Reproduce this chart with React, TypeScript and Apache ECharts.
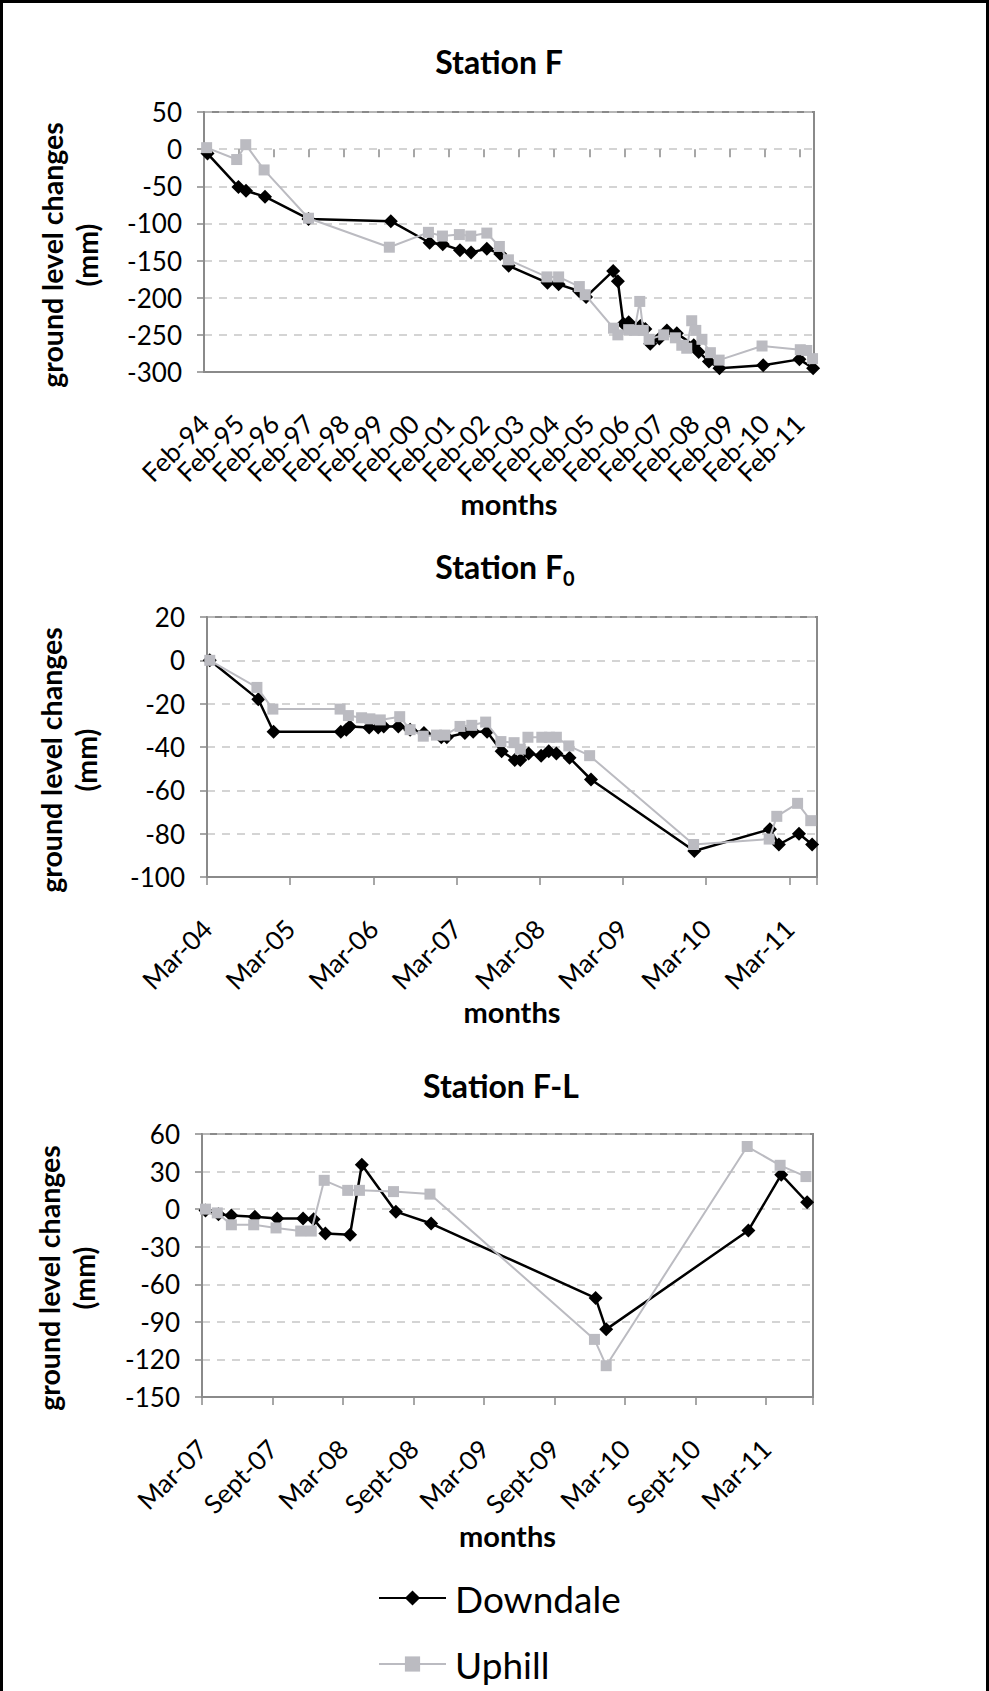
import React, { useEffect, useRef } from 'react';
import * as echarts from 'echarts';

const FONT = 'Lato, "Open Sans", sans-serif';
const DOWN_COLOR = '#000000';
const UP_COLOR = '#bbbbc1';
const AXIS_COLOR = '#8a8a8a';
const GRID_COLOR = '#c6c6c6';

// ---------- Station F (x = months since Feb-94) ----------
const fDownMonths = [1.2, 11.8, 14.4, 20.9, 35.8, 64.0, 77.3, 81.8, 87.7, 91.5, 96.9, 101.5, 104.4, 117.7, 121.5, 128.5, 130.9, 140.2, 141.8, 143.7, 145.5, 149.5, 151.2, 152.9, 156.0, 158.6, 162.0, 167.8, 169.5, 173.0, 176.6, 191.6, 204.0, 208.7];
const fDownValues = [-6, -51, -56, -64, -94, -97, -126, -128, -136, -139, -134, -141, -157, -180, -182, -191, -199, -164, -178, -235, -233, -238, -242, -262, -255, -244, -248, -264, -273, -286, -295, -291, -283, -295];
const fUpMonths = [0.9, 11.2, 14.3, 20.6, 35.8, 63.5, 76.9, 81.7, 87.5, 91.4, 96.9, 101.2, 104.3, 117.5, 121.5, 128.6, 130.6, 140.3, 141.8, 145.5, 147.5, 149.3, 150.5, 152.5, 157.5, 161.5, 163.7, 165.4, 167.1, 168.5, 170.6, 173.5, 176.5, 191.2, 204.3, 206.5, 208.5];
const fUpValues = [2, -14, 6, -28, -93, -132, -112, -117, -115, -117, -113, -131, -149, -172, -172, -185, -196, -241, -250, -243, -244, -205, -244, -256, -250, -254, -264, -268, -231, -244, -256, -274, -284, -265, -270, -271, -282];
const fTickLabels = ['Feb-94', 'Feb-95', 'Feb-96', 'Feb-97', 'Feb-98', 'Feb-99', 'Feb-00', 'Feb-01', 'Feb-02', 'Feb-03', 'Feb-04', 'Feb-05', 'Feb-06', 'Feb-07', 'Feb-08', 'Feb-09', 'Feb-10', 'Feb-11'];

// ---------- Station F0 (x = months since Mar-04) ----------
const f0DownMonths = [0.4, 7.4, 9.6, 19.3, 20.1, 20.6, 23.4, 24.7, 25.5, 27.6, 29.3, 31.3, 33.8, 34.6, 37.2, 38.4, 40.4, 42.5, 44.4, 45.2, 46.4, 48.2, 49.3, 50.4, 52.3, 55.4, 70.3, 81.2, 82.5, 85.4, 87.3];
const f0DownValues = [0, -18, -33, -33, -32, -30.5, -31, -31, -30.5, -30.5, -32, -33.5, -35.5, -35.5, -33.5, -33, -33, -42, -46, -46, -43, -44, -42, -43, -45, -55, -88, -78, -85, -80, -85];
const f0UpMonths = [0.4, 7.2, 9.5, 19.2, 20.4, 22.3, 23.5, 25.0, 27.8, 29.3, 31.2, 33.1, 34.3, 36.5, 38.2, 40.2, 42.4, 44.3, 45.2, 46.3, 48.3, 49.4, 50.4, 52.2, 55.2, 70.2, 81.1, 82.2, 85.2, 87.1];
const f0UpValues = [0, -12.5, -22.5, -22.5, -25.5, -26.5, -27, -27.5, -26, -32, -35, -34.5, -34.5, -30.5, -30, -28.5, -37.5, -38, -41, -35.5, -35.5, -35.5, -35.5, -39.5, -44, -85, -82.5, -72, -66, -74];
const f0TickLabels = ['Mar-04', 'Mar-05', 'Mar-06', 'Mar-07', 'Mar-08', 'Mar-09', 'Mar-10', 'Mar-11'];

// ---------- Station F-L (x = months since Mar-07) ----------
const flDownMonths = [0.3, 1.4, 2.5, 4.5, 6.4, 8.6, 9.5, 10.5, 12.6, 13.6, 16.5, 19.5, 33.5, 34.4, 46.5, 49.3, 51.5];
const flDownValues = [-1, -4, -5, -6, -7.5, -7.5, -8, -19.5, -20.5, 35.5, -2, -11.5, -71, -96, -17, 27.5, 5.5];
const flUpMonths = [0.3, 1.3, 2.5, 4.4, 6.3, 8.4, 9.3, 10.4, 12.4, 13.4, 16.3, 19.4, 33.4, 34.4, 46.4, 49.2, 51.4];
const flUpValues = [0, -3, -12.5, -12.5, -15, -17.5, -17.5, 23, 15, 15, 14, 12, -104, -125, 50, 35, 26];
const flTickLabels = ['Mar-07', 'Sept-07', 'Mar-08', 'Sept-08', 'Mar-09', 'Sept-09', 'Mar-10', 'Sept-10', 'Mar-11'];

const seriesNames = ['Downdale', 'Uphill'];

const zip = (xs: number[], ys: number[]) => xs.map((x, i) => [x, ys[i]]);

const panels = [
  {
    title: 'Station F',
    grid: { left: 204, top: 112, width: 610, height: 260 },
    xMax: 209, xInterval: 12, ticks: fTickLabels, nameGap: 116,
    yMin: -300, yMax: 50, yInterval: 50,
    down: zip(fDownMonths, fDownValues), up: zip(fUpMonths, fUpValues),
    titleX: 499, titleY: 61, yTitleX: 69, yTitleY: 255,
    monthTicks: true,
  },
  {
    title: 'Station F0',
    grid: { left: 207, top: 617, width: 610, height: 260 },
    xMax: 88, xInterval: 12, ticks: f0TickLabels, nameGap: 118,
    yMin: -100, yMax: 20, yInterval: 20,
    down: zip(f0DownMonths, f0DownValues), up: zip(f0UpMonths, f0UpValues),
    titleX: 505, titleY: 569, yTitleX: 68.5, yTitleY: 760,
    monthTicks: false,
  },
  {
    title: 'Station F-L',
    grid: { left: 202, top: 1134, width: 611, height: 263 },
    xMax: 52, xInterval: 6, ticks: flTickLabels, nameGap: 120,
    yMin: -150, yMax: 60, yInterval: 30,
    down: zip(flDownMonths, flDownValues), up: zip(flUpMonths, flUpValues),
    titleX: 501, titleY: 1085, yTitleX: 66, yTitleY: 1278,
    monthTicks: false,
  },
];

const xLabelStyle = {
  rotate: 45,
  margin: 47,
  fontFamily: FONT,
  fontSize: 26,
  color: '#000',
};

function buildOption() {
  const grid: any[] = [];
  const xAxis: any[] = [];
  const yAxis: any[] = [];
  const series: any[] = [];
  const graphic: any[] = [];
  const extraXAxes: any[] = [];

  panels.forEach((p, i) => {
    grid.push({ ...p.grid, show: true, borderColor: AXIS_COLOR, borderWidth: 2, backgroundColor: 'transparent' });
    const tickFmt = (v: number) => {
      const k = v / p.xInterval;
      if (Math.abs(k - Math.round(k)) > 1e-6) return '';
      return p.ticks[Math.round(k)] ?? '';
    };
    xAxis.push({
      gridIndex: i,
      type: 'value',
      min: 0,
      max: p.xMax,
      interval: p.xInterval,
      name: 'months',
      nameLocation: 'middle',
      nameGap: p.nameGap,
      nameTextStyle: { fontFamily: FONT, fontSize: 29, fontWeight: 'bold', color: '#000', lineHeight: 30 },
      axisLine: { show: true, onZero: false, lineStyle: { color: AXIS_COLOR, width: 2 } },
      axisTick: { show: !p.monthTicks, length: 8, lineStyle: { color: AXIS_COLOR, width: 1.5 } },
      splitLine: { show: false },
      axisLabel: { ...xLabelStyle, show: !p.monthTicks, formatter: tickFmt },
    });
    if (p.monthTicks) {
      // dense yearly labels: a month-by-month category axis on the same grid shows every label
      const monthCats = Array.from({ length: p.xMax + 1 }, (_, m) => String(m));
      extraXAxes.push({
        gridIndex: i,
        type: 'category',
        position: 'bottom',
        data: monthCats,
        boundaryGap: false,
        axisLine: { show: false },
        axisTick: {
          show: true,
          length: 8,
          interval: (idx: number) => idx % p.xInterval === 0,
          lineStyle: { color: AXIS_COLOR, width: 1.5 },
        },
        splitLine: { show: false },
        axisLabel: {
          ...xLabelStyle,
          interval: 0,
          formatter: (_v: string, idx: number) => (idx % p.xInterval === 0 ? p.ticks[idx / p.xInterval] ?? '' : ''),
        },
      });
    }
    yAxis.push({
      gridIndex: i,
      type: 'value',
      min: p.yMin,
      max: p.yMax,
      interval: p.yInterval,
      axisLine: { show: true, lineStyle: { color: AXIS_COLOR, width: 2 } },
      axisTick: { show: true, length: 7, lineStyle: { color: AXIS_COLOR, width: 1.5 } },
      splitLine: { show: true, lineStyle: { color: GRID_COLOR, width: 1.5, type: [8, 7] } },
      axisLabel: { margin: 22, fontFamily: FONT, fontSize: 26, color: '#000', showMinLabel: true, showMaxLabel: true },
    });
    series.push({
      name: seriesNames[0],
      type: 'line',
      xAxisIndex: i,
      yAxisIndex: i,
      data: p.down,
      symbol: 'diamond',
      symbolSize: 14,
      showAllSymbol: true,
      lineStyle: { color: DOWN_COLOR, width: 2.5 },
      itemStyle: { color: DOWN_COLOR },
      z: 3,
    });
    series.push({
      name: seriesNames[1],
      type: 'line',
      xAxisIndex: i,
      yAxisIndex: i,
      data: p.up,
      symbol: 'rect',
      symbolSize: 11,
      showAllSymbol: true,
      lineStyle: { color: UP_COLOR, width: 2 },
      itemStyle: { color: UP_COLOR },
      z: 4,
    });

    const isSub = p.title === 'Station F0';
    graphic.push({
      type: 'text',
      x: p.titleX,
      y: p.titleY,
      style: isSub
        ? {
            text: '{m|Station F}{s|0}',
            align: 'center',
            verticalAlign: 'middle',
            rich: {
              m: { fontFamily: FONT, fontSize: 32, fontWeight: 'bold', fill: '#000', lineHeight: 38, verticalAlign: 'top' },
              s: { fontFamily: FONT, fontSize: 20, fontWeight: 'bold', fill: '#000', lineHeight: 21, verticalAlign: 'bottom' },
            },
          }
        : {
            text: p.title,
            align: 'center',
            verticalAlign: 'middle',
            fontFamily: FONT,
            fontSize: 32,
            fontWeight: 'bold',
            fill: '#000',
          },
    });
    graphic.push({
      type: 'text',
      x: p.yTitleX,
      y: p.yTitleY,
      rotation: Math.PI / 2,
      style: {
        text: 'ground level changes\n(mm)',
        align: 'center',
        verticalAlign: 'middle',
        fontFamily: FONT,
        fontSize: 28.5,
        fontWeight: 'bold',
        lineHeight: 35,
        fill: '#000',
      },
    });
  });

  graphic.push({
    type: 'rect',
    shape: { x: 1.5, y: 1.5, width: 986, height: 1730 },
    style: { fill: 'none', stroke: '#000', lineWidth: 3 },
    silent: true,
    z: 100,
  });

  return {
    animation: false,
    backgroundColor: '#ffffff',
    textStyle: { fontFamily: FONT },
    grid,
    xAxis: [...xAxis, ...extraXAxes],
    yAxis,
    series,
    graphic,
    legend: {
      data: seriesNames,
      orient: 'vertical',
      left: 373,
      top: 1572,
      width: 400,
      height: 200,
      padding: 5,
      itemWidth: 67,
      itemHeight: 19,
      itemGap: 24,
      textStyle: { fontFamily: FONT, fontSize: 37, lineHeight: 42, color: '#000', padding: [0, 0, 0, 4] },
    },
  };
}

export default function App() {
  const ref = useRef<HTMLDivElement>(null);
  useEffect(() => {
    if (!ref.current) return;
    const chart = echarts.init(ref.current, undefined, { renderer: 'svg' });
    chart.setOption(buildOption() as any);
    return () => chart.dispose();
  }, []);
  return (
    <div
      ref={ref}
      style={{ position: 'absolute', left: 0, top: 0, width: 989, height: 1691, background: '#fff' }}
    />
  );
}
